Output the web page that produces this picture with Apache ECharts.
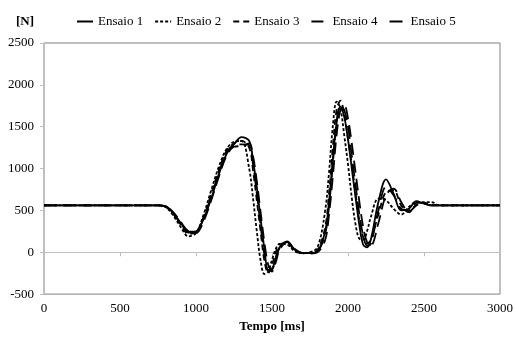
<!DOCTYPE html>
<html>
<head>
<meta charset="utf-8">
<script src="https://cdn.jsdelivr.net/npm/echarts@6/dist/echarts.min.js"></script>
<style>html,body{margin:0;padding:0;background:#fff;}#c{width:516px;height:338px;}</style>
</head>
<body>
<div id="c"></div>
<script>
// Time samples [ms]
const tempo = [0, 750, 800, 850, 900, 950, 1000, 1050, 1100, 1150, 1200, 1250, 1300,
  1350, 1375, 1400, 1425, 1450, 1475, 1500, 1525,
  1550, 1600, 1650, 1700, 1750, 1800, 1850,
  1875, 1900, 1925, 1950, 1975, 2000, 2025, 2050, 2075, 2100, 2125,
  2150, 2200, 2250, 2300, 2350, 2400, 2450, 2500, 2550, 2600, 3000];

// Force [N]
const ensaio1 = [560, 560, 545, 470, 350, 245, 250, 400, 640, 930, 1170, 1290, 1375,
  1330, 1100, 780, 400, 40, -210, -200, -60,
  60, 130, 30, -10, -10, 10, 250,
  600, 1100, 1550, 1740, 1620, 1350, 1000, 650, 320, 90, 60,
  150, 600, 870, 700, 500, 520, 610, 580, 560, 560, 560];
const ensaio2 = [560, 560, 540, 440, 300, 190, 230, 450, 740, 1020, 1230, 1320, 1330,
  1000, 650, 250, -100, -260, -230, -90, 40,
  100, 90, 10, -10, 0, 60, 500,
  950, 1500, 1800, 1720, 1400, 1050, 650, 330, 160, 150, 250,
  420, 640, 620, 520, 450, 540, 600, 600, 600, 560, 560];
const ensaio3 = [560, 560, 550, 460, 330, 220, 240, 420, 700, 980, 1210, 1300, 1330,
  1250, 980, 620, 250, -100, -250, -150, 0,
  90, 110, 20, -10, -5, 30, 300,
  700, 1250, 1700, 1810, 1650, 1350, 1050, 700, 380, 180, 100,
  150, 450, 720, 740, 560, 480, 570, 590, 570, 560, 560];
const ensaio4 = [560, 560, 550, 480, 360, 250, 230, 370, 620, 900, 1150, 1260, 1270,
  1300, 1150, 850, 480, 120, -150, -230, -120,
  30, 120, 40, -10, -15, 0, 150,
  450, 900, 1400, 1700, 1760, 1600, 1300, 950, 600, 300, 120,
  80, 350, 680, 760, 600, 480, 560, 580, 560, 560, 560];
const ensaio5 = [560, 560, 545, 460, 340, 235, 245, 410, 670, 950, 1190, 1280, 1290,
  1280, 1050, 700, 320, -30, -220, -210, -80,
  50, 120, 30, -10, -10, 10, 220,
  550, 1050, 1550, 1750, 1700, 1500, 1150, 800, 450, 200, 80,
  100, 500, 780, 680, 520, 500, 590, 590, 560, 560, 560];

const seriesNames = ['Ensaio 1', 'Ensaio 2', 'Ensaio 3', 'Ensaio 4', 'Ensaio 5'];
const xTicks = [0, 500, 1000, 1500, 2000, 2500, 3000];
const yTicks = [-500, 0, 500, 1000, 1500, 2000, 2500];

const allData = [ensaio1, ensaio2, ensaio3, ensaio4, ensaio5];
const dashes = ['solid', [3, 2], [6, 4], [12, 6], [13, 6]];
const FONT = 'Liberation Serif';

const chart = echarts.init(document.getElementById('c'), null, {renderer: 'canvas'});
chart.setOption({
  animation: false,
  backgroundColor: '#ffffff',
  textStyle: {fontFamily: FONT},
  grid: {left: 44, right: 14, top: 43, bottom: 38, show: true, borderColor: '#808080', borderWidth: 1, backgroundColor: 'transparent'},
  legend: {
    data: seriesNames,
    left: 76, top: 15, padding: 0,
    itemWidth: 16, itemHeight: 14, itemGap: 11,
    itemStyle: {opacity: 0},
    textStyle: {fontFamily: FONT, fontSize: 13, color: '#000'}
  },
  graphic: [{
    type: 'text', left: 16, top: 15,
    style: {text: '[N]', font: 'bold 13px "Liberation Serif"', fill: '#000'}
  }],
  xAxis: [{
    type: 'value', min: xTicks[0], max: xTicks[xTicks.length - 1], interval: 500,
    position: 'bottom',
    axisLine: {show: false, onZero: false},
    axisTick: {show: false},
    splitLine: {show: false},
    axisLabel: {fontFamily: FONT, fontSize: 13, color: '#000', margin: 8, formatter: v => String(v)},
    name: 'Tempo [ms]', nameLocation: 'middle', nameGap: 18,
    nameTextStyle: {fontFamily: FONT, fontSize: 13, fontWeight: 'bold', color: '#000'}
  }, {
    type: 'value', min: xTicks[0], max: xTicks[xTicks.length - 1], interval: 500,
    position: 'top',
    axisLine: {show: true, onZero: true, lineStyle: {color: '#bfbfbf', width: 1}},
    axisTick: {show: true, inside: true, length: 4, lineStyle: {color: '#bfbfbf'}},
    axisLabel: {show: false},
    splitLine: {show: false}
  }],
  yAxis: {
    type: 'value', min: yTicks[0], max: yTicks[yTicks.length - 1], interval: 500,
    axisLine: {show: true, onZero: false, lineStyle: {color: '#bfbfbf', width: 1}},
    axisTick: {show: true, length: 4, lineStyle: {color: '#bfbfbf'}},
    splitLine: {show: false},
    axisLabel: {fontFamily: FONT, fontSize: 13, color: '#000', margin: 10, formatter: v => String(v)}
  },
  series: seriesNames.map((n, i) => ({
    name: n, type: 'line', xAxisIndex: 0,
    data: tempo.map((t, k) => [t, allData[i][k]]),
    showSymbol: false, symbol: 'none', smooth: 0.35,
    lineStyle: {color: '#000', width: 1.8, type: dashes[i]},
    itemStyle: {color: '#000'}
  }))
});
</script>
</body>
</html>
